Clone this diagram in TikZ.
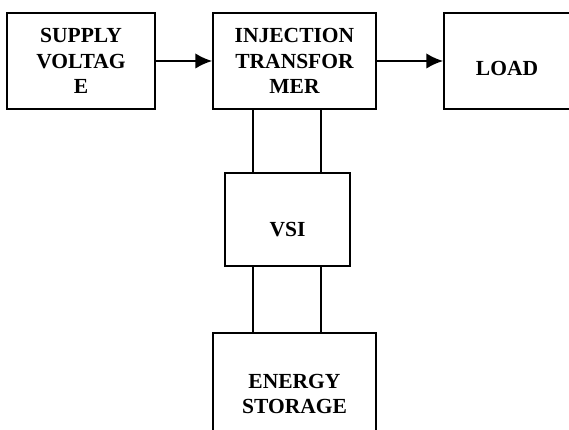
\documentclass[tikz,border=0pt]{standalone}
\usepackage{fontspec}
\setmainfont{Liberation Serif}
\usetikzlibrary{arrows.meta}
\begin{document}
\begin{tikzpicture}[
		block/.style={draw, line width=1.1pt, align=center, inner sep=0pt,
			font=\bfseries\fontsize{15.3}{18}\selectfont},
		link/.style={line width=0.8pt},
		flow/.style={line width=1.6pt, -{Latex[length=12pt, width=11pt]}}]

		\clip (0,0) rectangle (14.225,-10.75);

		\node[block, minimum width=3.7cm, minimum height=2.4cm] (SV) at (2.025,-1.525) {SUPPLY\\VOLTAG\\E};
		\node[block, minimum width=4.075cm, minimum height=2.4cm] (IT) at (7.3625,-1.525) {INJECTION\\TRANSFOR\\MER};
		\node[block, minimum width=3.15cm, minimum height=2.4cm, text height=0.75cm, text depth=0cm] (LD) at (12.675,-1.525) {LOAD};
		\node[block, minimum width=3.125cm, minimum height=2.325cm, text height=0.85cm, text depth=0cm] (VSI) at (7.1875,-5.4875) {VSI};
		\node[block, minimum width=4.075cm, minimum height=3.05cm] (ES) at (7.3625,-9.85) {ENERGY\\STORAGE};

		\draw[flow] (SV) -- (IT);
		\draw[flow] (IT) -- (LD);

		\draw[link] ([xshift=-0.8625cm]VSI.north) -- ([xshift=-0.8625cm]VSI.north |- IT.south);
		\draw[link] ([xshift=0.8375cm]VSI.north) -- ([xshift=0.8375cm]VSI.north |- IT.south);
		\draw[link] ([xshift=-0.8625cm]VSI.south) -- ([xshift=-0.8625cm]VSI.south |- ES.north);
		\draw[link] ([xshift=0.8375cm]VSI.south) -- ([xshift=0.8375cm]VSI.south |- ES.north);

	\end{tikzpicture}
\end{document}
